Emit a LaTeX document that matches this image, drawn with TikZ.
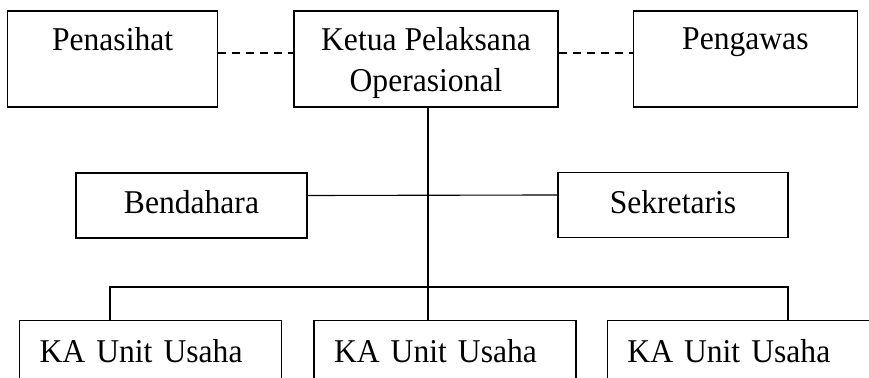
\documentclass[tikz,border=0pt]{standalone}
\usepackage{fontspec}
\setmainfont{Liberation Serif}[FakeStretch=0.95]
\usetikzlibrary{positioning}
\definecolor{colBorder}{HTML}{000000}
\tikzset{
  %% generic box
  box/.style={
    draw=colBorder, line width=0.55pt,
    align=center,
    font=\fontsize{13.3pt}{16.4pt}\selectfont,
    inner sep=0pt
  },
  %% top row, text sits in the upper part
  topbox/.style={box, minimum width=#1, minimum height=38.4pt,
                 text depth=0pt},
  %% middle row
  midbox/.style={box, minimum width=#1, minimum height=26pt,
                 text depth=2.5pt},
  %% bottom row, cut by the page edge
  unitbox/.style={box, text width=88.8pt, align=left, inner xsep=8pt,
                  minimum height=24pt, anchor=north west},
  %% connectors
  link/.style ={draw=colBorder, line width=0.45pt},
  dlink/.style={link, dash pattern=on 3.2pt off 2.4pt}
}
\begin{document}
\begin{tikzpicture}[x=0.4pt, y=-0.4pt]
\useasboundingbox (0,0) rectangle (869,378);

% ════════════════════════════════════════════════════════════
% TOP ROW
% ════════════════════════════════════════════════════════════
\node[topbox=105.6pt] (ketua) at (426,59) {Ketua Pelaksana\\Operasional};
\node[topbox=84pt, left=30pt of ketua] (pen) {Penasihat\\~};
\node[topbox=89.6pt, right=29.6pt of ketua] (awas) {Pengawas\\~};

% ════════════════════════════════════════════════════════════
% MIDDLE ROW
% ════════════════════════════════════════════════════════════
\node[midbox=92.4pt] (bend) at (191.5,205.5) {Bendahara};
\node[midbox=92pt] (sek) at (673,205) {Sekretaris};

% ════════════════════════════════════════════════════════════
% BOTTOM ROW
% ════════════════════════════════════════════════════════════
\node[unitbox] (ka1) at (19,320) {KA Unit Usaha};
\node[unitbox, right=12.4pt of ka1] (ka2) {KA Unit Usaha};
\node[unitbox, right=12pt of ka2] (ka3) {KA Unit Usaha};

\coordinate (busL) at (110,287);
\coordinate (busR) at (788,287);

% ════════════════════════════════════════════════════════════
% CONNECTORS
% ════════════════════════════════════════════════════════════
\draw[dlink] ([yshift=2.4pt]pen.east) -- ([yshift=2.4pt]ketua.west);
\draw[dlink] ([yshift=2.4pt]ketua.east) -- ([yshift=2.4pt]awas.west);

\draw[link] ([xshift=0.8pt]ketua.south) -- ([xshift=0.8pt]ketua.south |- ka2.north);
\draw[link] ([yshift=4pt]bend.east) -- ([yshift=4pt]sek.west);
\draw[link] (ka1.north -| busL) -- (busL) -- (busR) -- (ka3.north -| busR);

\end{tikzpicture}
\end{document}
